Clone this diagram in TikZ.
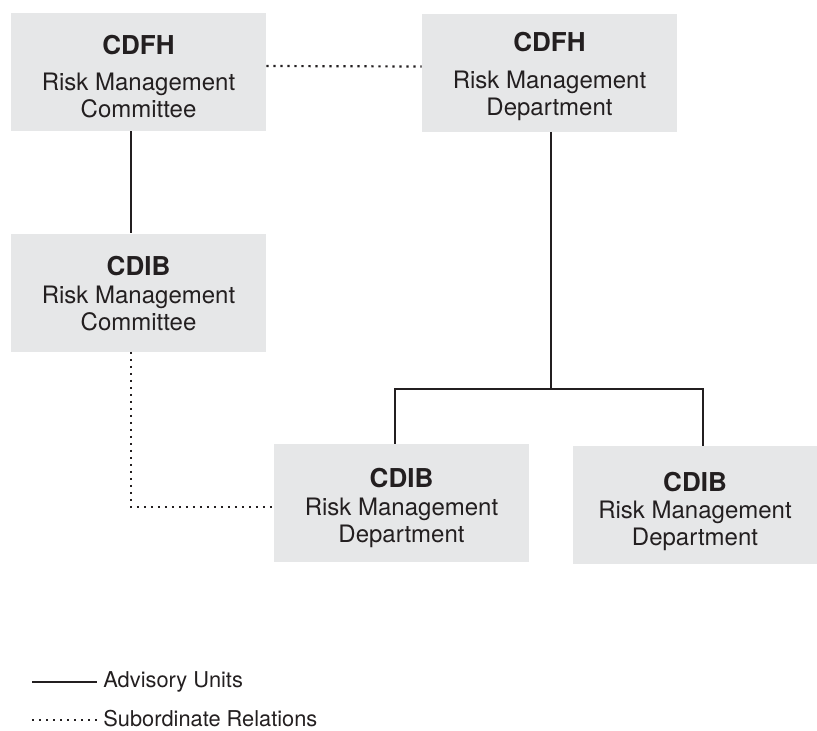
\documentclass[tikz,border=0pt]{standalone}
\usepackage{fontspec}
\setmainfont{TeX Gyre Heros}
\definecolor{boxgray}{HTML}{E6E7E8}
\definecolor{inkdark}{HTML}{231F20}
% #2: height of the first line, pushes the lines down in the box
\newcommand{\unitlabel}[4][0pt]{\rule{0pt}{#2}{\fontsize{13}{15}\selectfont\bfseries #3}\\[#1]Risk Management\\#4}
\tikzset{
  unit/.style={fill=boxgray, text=inkdark, minimum width=127.5pt, minimum height=59pt,
    inner sep=0pt, align=center, font=\fontsize{12}{13.5}\selectfont},
  advline/.style={draw=inkdark, line width=0.6pt},
  subline/.style={draw=inkdark, line width=1.1pt, dash pattern=on 1.1pt off 2.4pt},
  legend/.style={text=inkdark, anchor=west, inner sep=0pt, font=\fontsize{10.9}{13}\selectfont}
}
\begin{document}
\begin{tikzpicture}[x=0.5pt, y=-0.5pt]
\useasboundingbox (0,0) rectangle (817,730);
% units
\node[unit] (fhcom) at (138.5,72) {\unitlabel[4.5pt]{13.9pt}{CDFH}{Committee}};
\node[unit] (fhdep) at (549.5,72.5) {\unitlabel[5pt]{13.4pt}{CDFH}{Department}};
\node[unit] (ibcom) at (138.5,292.5) {\unitlabel[0.5pt]{10.4pt}{CDIB}{Committee}};
\node[unit] (ibdep) at (401.5,503) {\unitlabel[0.5pt]{14.9pt}{CDIB}{Department}};
\node[unit, minimum width=122pt] (ibdeptwo) at (695,505) {\unitlabel{15.9pt}{CDIB}{Department}};
% connectors
\draw[subline] ([yshift=3pt]fhcom.east) -- ([yshift=3pt]fhdep.west);
\draw[advline] ([xshift=-3.75pt]fhcom.south) -- ([xshift=-3.75pt]ibcom.north);
\draw[subline] ([xshift=-3.75pt]ibcom.south) |- ([yshift=-2pt]ibdep.west);
\coordinate (fork) at (551,389);
\draw[advline] ([xshift=0.75pt]fhdep.south) -- (fork);
\draw[advline] ([xshift=-3.25pt]ibdep.north) |- (fork) -| ([xshift=4pt]ibdeptwo.north);
% legend
\coordinate (advstart) at (32,682);
\coordinate (substart) at (32,720);
\node[legend] (advis) at (103,682) {Advisory Units};
\node[legend] (subord) at (103,719) {Subordinate Relations};
\draw[advline] (advstart) -- ([xshift=-3pt]advis.west);
\draw[subline] (substart) -- ([xshift=-3pt,yshift=-0.5pt]subord.west);
\end{tikzpicture}
\end{document}
